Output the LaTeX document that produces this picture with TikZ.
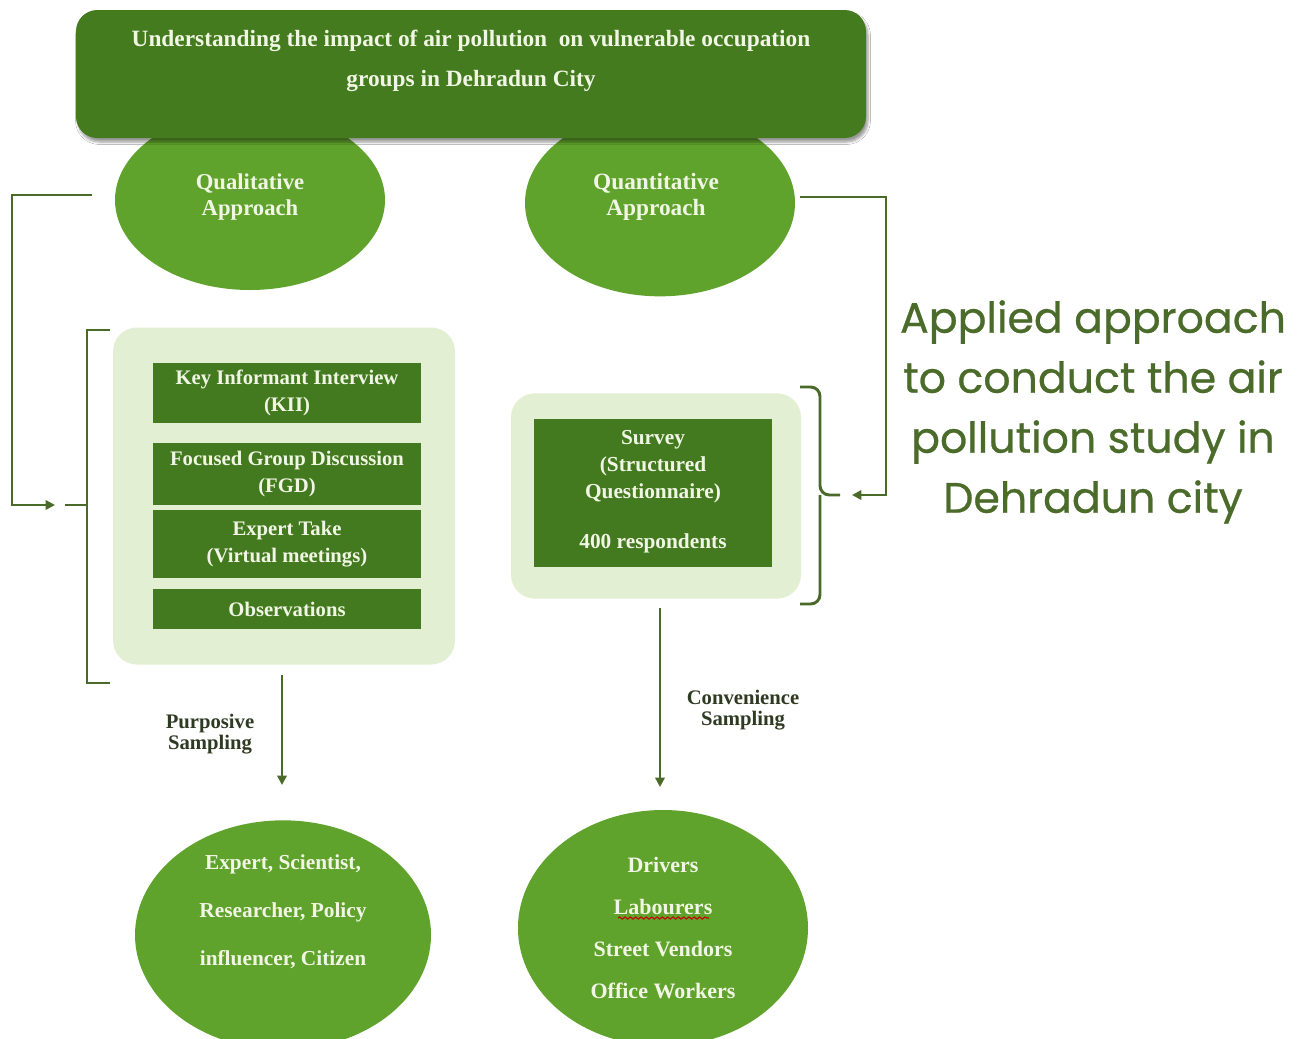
\documentclass[tikz,border=0pt]{standalone}
\usepackage{fontspec}
\setmainfont{Liberation Serif}
\newfontfamily\pop{Poppins}[FakeBold=0.6]
\usetikzlibrary{shapes.geometric,arrows.meta,shadows.blur,decorations.pathmorphing}
\definecolor{banner}{HTML}{447B1F}
\definecolor{ell}{HTML}{5FA22C}
\definecolor{boxg}{HTML}{437A20}
\definecolor{panel}{HTML}{E3EFD3}
\definecolor{lineg}{HTML}{4A6A2A}
\definecolor{txtw}{HTML}{F1F6E4}
\definecolor{sidetxt}{HTML}{4B6B2B}
\definecolor{labtxt}{HTML}{2E3A22}
\tikzset{
  ellnode/.style={ellipse, fill=ell, draw=none, inner sep=0pt},
  wtext/.style={text=txtw, font=\bfseries\fontsize{15.5}{20}\selectfont, align=center},
  darkbox/.style={rectangle, fill=boxg, draw=none, inner sep=0pt, wtext},
  panelbox/.style={rectangle, rounded corners=18pt, fill=panel, draw=none},
  conn/.style={draw=lineg, line width=2.2pt},
  arr/.style={conn, -{Triangle[length=7pt,width=7pt]}},
  lab/.style={text=labtxt, font=\bfseries\fontsize{15.5}{16}\selectfont, align=center},
}
\begin{document}
\begin{tikzpicture}[x=0.75pt,y=-0.75pt]
\useasboundingbox (0,0) rectangle (1307,1039);
\fill[white] (0,0) rectangle (1307,1039);
% top ellipses (behind banner)
\node[ellnode, minimum width=202.5pt, minimum height=135pt] (qual) at (250,200) {};
\node[ellnode, minimum width=202.5pt, minimum height=140pt] (quant) at (660,203) {};
\node[wtext, font=\bfseries\fontsize{17}{20}\selectfont] (qualt) at (250,197) {Qualitative\\Approach};
\node[wtext, font=\bfseries\fontsize{17.5}{20}\selectfont] (quantt) at (656,197) {Quantitative\\Approach};
% banner
\node[rectangle, rounded corners=16pt, fill=banner, minimum width=592.5pt, minimum height=96pt,
      blur shadow={shadow xshift=1.5pt, shadow yshift=-3pt, shadow blur steps=6}] (banner) at (471,74) {};
\node[wtext, font=\bfseries\fontsize{17.5}{30}\selectfont] (title) at (471,61)
  {Understanding the impact of air pollution\ \ on vulnerable occupation\\groups in Dehradun City};
% left panel
\node[panelbox, minimum width=256.5pt, minimum height=252.75pt] (lpanel) at (284,496) {};
\node[darkbox, minimum width=201pt, minimum height=45pt] (kii) at (287,393) {Key Informant Interview\\(KII)};
\node[darkbox, minimum width=201pt, minimum height=46.5pt] (fgd) at (287,474) {Focused Group Discussion\\(FGD)};
\node[darkbox, minimum width=201pt, minimum height=51pt] (exp) at (287,544) {Expert Take\\(Virtual meetings)};
\node[darkbox, minimum width=201pt, minimum height=30pt] (obs) at (287,609) {Observations};
% right panel
\node[panelbox, minimum width=217.5pt, minimum height=154pt] (rpanel) at (656,496) {};
\node[darkbox, minimum width=178.5pt, minimum height=111pt] (survey) at (653,493) {};
\node[wtext, font=\bfseries\fontsize{16}{20}\selectfont] (surveyt) at (653,492) {Survey\\(Structured\\Questionnaire)\\[18pt]400 respondents};
% bottom ellipses
\node[ellnode, minimum width=222pt, minimum height=172pt] (experts) at (283,935) {};
\node[ellnode, minimum width=217.5pt, minimum height=177pt] (workers) at (663,928) {};
\node[wtext, font=\bfseries\fontsize{16}{36}\selectfont] (expertst) at (283,912) {Expert, Scientist,\\Researcher, Policy\\influencer, Citizen};
\node[wtext, font=\bfseries\fontsize{16.5}{31.5}\selectfont] (workerst) at (663,928) {Drivers\\Labourers\\Street Vendors\\Office Workers};
\draw[red!80!black, line width=0.8pt, decorate, decoration={snake, amplitude=0.8pt, segment length=4pt}] (618,918) -- (709,918);
% left connector and bracket
\coordinate (lstart) at (92,195);
\coordinate (lend) at (55,505);
\draw[arr] (lstart) -- (12,195) -- (12,505) -- (lend);
\coordinate (lbtop) at (110,330);
\coordinate (lbbot) at (110,683);
\draw[conn] (lbtop) -- (87,330) -- (87,683) -- (lbbot);
\draw[conn] (87,505) -- (65,505);
% right connector and brace
\coordinate (rstart) at (800,197);
\coordinate (rend) at (852,495);
\draw[arr] (rstart) -- (886,197) -- (886,495) -- (rend);
\coordinate (rbtop) at (800,387);
\coordinate (rbbot) at (800,604);
\draw[conn, rounded corners=7pt] (rbtop) -| (820,495) -- (840,495);
\draw[conn, rounded corners=7pt] (rbbot) -| (820,495);
% down arrows
\coordinate (la1) at (282,675);
\coordinate (la2) at (282,785);
\draw[arr] (la1) -- (la2);
\coordinate (ra1) at (660,608);
\coordinate (ra2) at (660,787);
\draw[arr] (ra1) -- (ra2);
\node[lab] (purp) at (210,734) {Purposive\\Sampling};
\node[lab] (conv) at (743,710) {Convenience\\Sampling};
% side text
\node[text=sidetxt, font=\pop\fontsize{32}{45}\selectfont, align=center] (side) at (1093,412)
  {Applied approach\\to conduct the air\\pollution study in\\Dehradun city};
\end{tikzpicture}
\end{document}
